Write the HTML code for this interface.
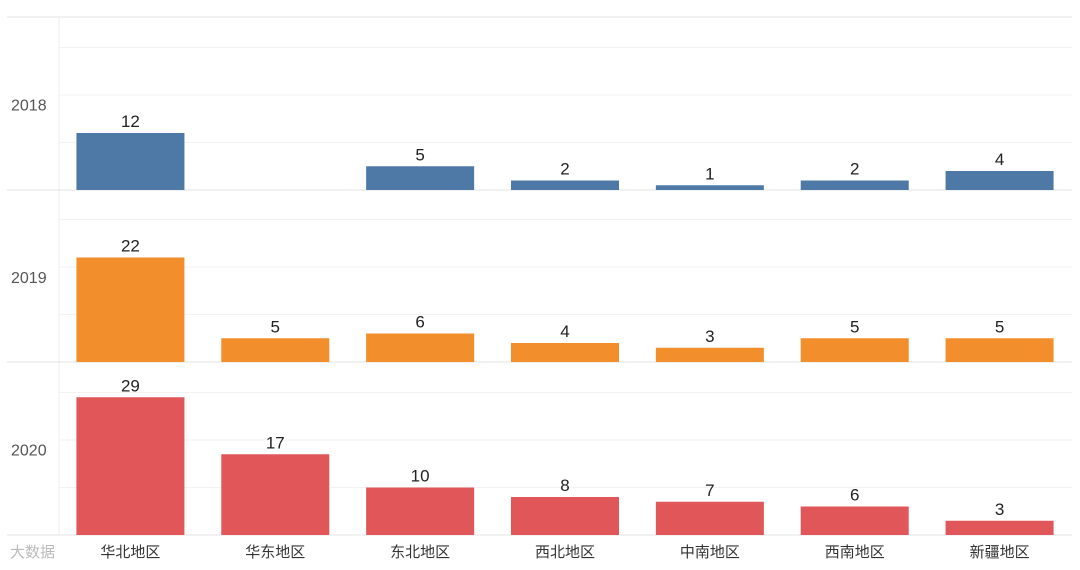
<!DOCTYPE html>
<html><head><meta charset="utf-8"><style>
body{margin:0;background:#fff;}
svg{display:block;font-family:"Liberation Sans","Noto Sans CJK SC",sans-serif;}
</style></head><body>
<svg id="c" width="1080" height="570" viewBox="0 0 1080 570"></svg>
<script>
const categories=["华北地区","华东地区","东北地区","西北地区","中南地区","西南地区","新疆地区"];
const years=["2018","2019","2020"];
const values2018=[12,0,5,2,1,2,4];
const values2019=[22,5,6,4,3,5,5];
const values2020=[29,17,10,8,7,6,3];
const series=[values2018,values2019,values2020];
const colors=["#4e79a7","#f28e2b","#e15759"];
const NS="http://www.w3.org/2000/svg";
const svg=document.getElementById('c');
const left=58,right=1072,step=(right-left)/categories.length,bw=108;
const baselines=[190,362,535],panelTop=[17,190,362];
const k=4.75;
function x(i){return left+step*i+(step-bw)/2;}
function y(p,v){return baselines[p]-v*k;}
function mk(t,a){const e=document.createElementNS(NS,t);for(const n in a)e.setAttribute(n,a[n]);svg.appendChild(e);return e;}
let l=mk('line',{x1:7,x2:right,y1:17,y2:17,stroke:'#e6e6e6'});


l=mk('line',{x1:left+1,x2:left+1,y1:17,y2:535,stroke:'#eeeeee'});


for(let p=0;p<3;p++){
  for(let g=10;g<=30;g+=10){
    const gy=y(p,g);
    if(gy<=panelTop[p]+2)continue;
    const e=mk('line',{x1:left,x2:right,y1:gy,y2:gy,stroke:'#f3f3f3'});
    
    
  }
  const b=mk('line',{x1:7,x2:right,y1:baselines[p],y2:baselines[p],stroke:'#e3e3e3'});
  
  
  const yl=mk('text',{x:11,y:(panelTop[p]+baselines[p])/2+7,'font-size':16,fill:'#555'});
  yl.textContent=years[p];
  
  
  series[p].forEach((v,i)=>{
    if(v<=0)return;
    const r=mk('rect',{x:x(i),y:y(p,v),width:bw,height:v*k,fill:colors[p]});
    
    
    const t=mk('text',{x:x(i)+bw/2,y:y(p,v)-6,'font-size':17,fill:'#222','text-anchor':'middle'});
    t.textContent=v;
    
    
  });
}
categories.forEach((c,i)=>{
  const t=mk('text',{x:x(i)+bw/2,y:557,'font-size':15,fill:'#333','text-anchor':'middle'});
  t.textContent=c;
  
  
});
const w=mk('text',{x:10,y:557,'font-size':15,fill:'#bbb'});
w.textContent='大数据';


</script>
</body></html>
